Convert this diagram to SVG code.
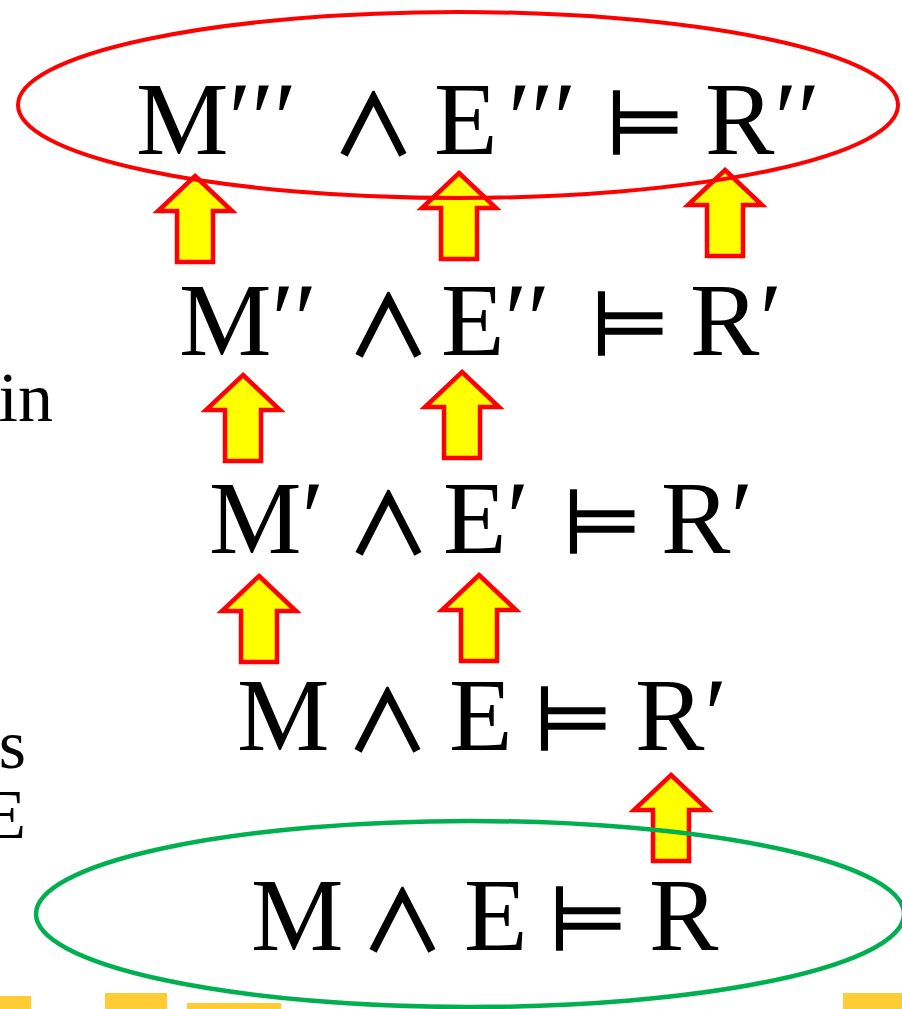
<svg xmlns="http://www.w3.org/2000/svg" width="902" height="1009" viewBox="0 0 902 1009">
  <defs>
    <style>
      .f { font-family: "Liberation Serif", "Times New Roman", "DejaVu Serif", serif; fill: #000; }
      .row { font-size: 104px; }
      .and { font-family: "Noto Sans CJK JP", "DejaVu Sans", sans-serif; font-size: 81px; stroke: #000; stroke-width: 2.5; }
      .ent { font-family: "DejaVu Sans", sans-serif; font-size: 90px; font-weight: 200; stroke: #000; stroke-width: 1.5; }
      .side { font-size: 70px; }
      .up { fill: #FFFF00; stroke: #FF0000; stroke-width: 4.5; stroke-linejoin: miter; }
      .ring { fill: none; }
      .bar { fill: #FFCC33; }
    </style>
    <!-- block arrow pointing up, origin at the tip -->
    <path id="uparrow" d="M0,0 L37,35 L18,35 L18,86 L-18,86 L-18,35 L-37,35 Z"/>
  </defs>

  <rect width="902" height="1009" fill="#fff"/>

  <!-- side captions, cut by the left edge -->
  <g id="side-text" class="f side">
    <text x="53" y="421" text-anchor="end">in</text>
    <text x="26" y="768" text-anchor="end">as</text>
    <text x="26" y="838" text-anchor="end">E</text>
  </g>

  <!-- bottom accent bars -->
  <g id="bars">
    <rect class="bar" x="0" y="996" width="31" height="13"/>
    <rect class="bar" x="105" y="993" width="62" height="16"/>
    <rect class="bar" x="187" y="1003" width="94" height="6"/>
    <rect class="bar" x="843" y="993" width="59" height="16"/>
  </g>

  <!-- connectors: upward block arrows between the rows -->
  <g id="connectors">
    <use href="#uparrow" class="up" transform="translate(195,176)"/>
    <use href="#uparrow" class="up" transform="translate(459,173)"/>
    <use href="#uparrow" class="up" transform="translate(725,170)"/>
    <use href="#uparrow" class="up" transform="translate(243,375)"/>
    <use href="#uparrow" class="up" transform="translate(462,372)"/>
    <use href="#uparrow" class="up" transform="translate(259,576)"/>
    <use href="#uparrow" class="up" transform="translate(479,575)"/>
    <use href="#uparrow" class="up" transform="translate(671,775)"/>
  </g>

  <!-- goal statement -->
  <g id="node-top">
    <ellipse class="ring" cx="458" cy="105" rx="440" ry="93" stroke="#FF0000" stroke-width="4"/>
    <text class="f row" y="154"><tspan x="136">M</tspan><tspan>′′′</tspan> <tspan class="and" x="333">∧</tspan> <tspan x="434">E</tspan><tspan x="508">′′′</tspan> <tspan class="ent" x="606">⊨</tspan> <tspan x="705">R</tspan><tspan>′′</tspan></text>
  </g>

  <g id="node-2">
    <text class="f row" y="355"><tspan x="179">M</tspan><tspan>′′</tspan> <tspan class="and" x="348">∧</tspan> <tspan x="441">E</tspan><tspan>′′</tspan> <tspan class="ent" x="591">⊨</tspan> <tspan x="690">R</tspan><tspan>′</tspan></text>
  </g>

  <g id="node-3">
    <text class="f row" y="553"><tspan x="209">M</tspan><tspan>′</tspan> <tspan class="and" x="348">∧</tspan> <tspan x="443">E</tspan><tspan>′</tspan> <tspan class="ent" x="563">⊨</tspan> <tspan x="661">R</tspan><tspan>′</tspan></text>
  </g>

  <g id="node-4">
    <text class="f row" y="750"><tspan x="237">M</tspan> <tspan class="and" x="347">∧</tspan> <tspan x="449">E</tspan> <tspan class="ent" x="534">⊨</tspan> <tspan x="635">R</tspan><tspan>′</tspan></text>
  </g>

  <!-- starting statement -->
  <g id="node-bottom">
    <ellipse class="ring" cx="470" cy="914" rx="434" ry="93" stroke="#00B050" stroke-width="4.5"/>
    <text class="f row" y="950"><tspan x="251">M</tspan> <tspan class="and" x="362">∧</tspan> <tspan x="464">E</tspan> <tspan class="ent" x="549">⊨</tspan> <tspan x="649">R</tspan></text>
  </g>
</svg>
